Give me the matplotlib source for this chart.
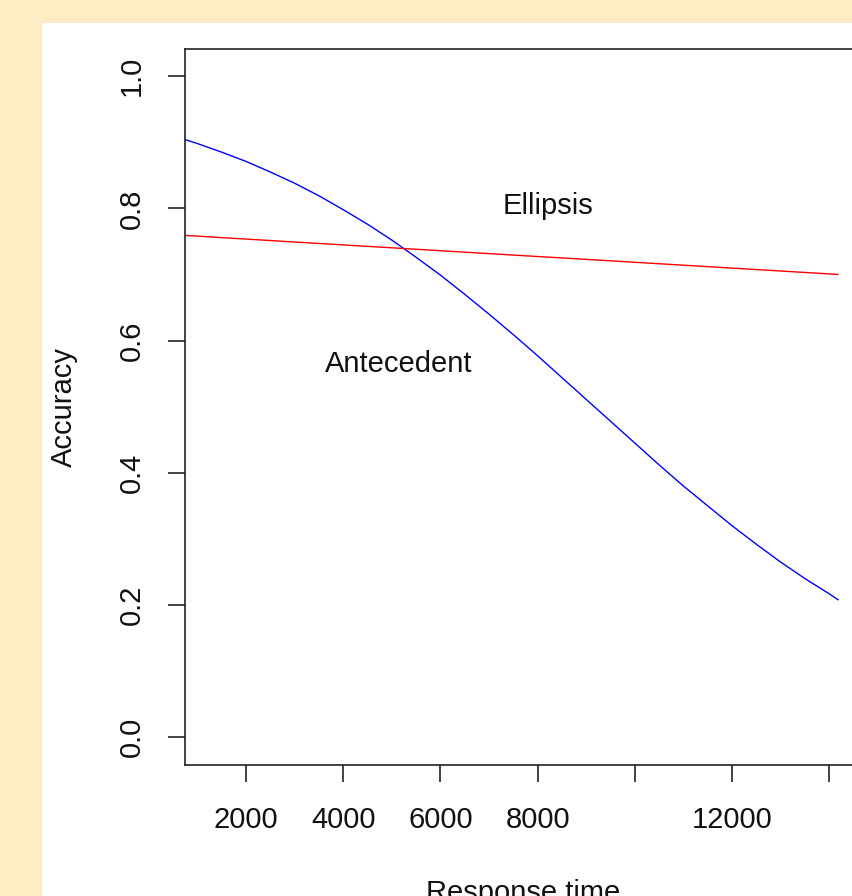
import matplotlib
matplotlib.use("Agg")
import matplotlib.pyplot as plt
from matplotlib.patches import Rectangle

# Data
resp_time = [745, 1000, 1500, 2000, 2500, 3000, 3500, 4000, 4500, 5000,
             5500, 6000, 6500, 7000, 7500, 8000, 8500, 9000, 9500, 10000,
             10500, 11000, 11500, 12000, 12500, 13000, 13500, 14000, 14181]
antecedent_acc = [0.904, 0.898, 0.885, 0.871, 0.855, 0.838, 0.819, 0.798,
                  0.776, 0.752, 0.726, 0.699, 0.670, 0.640, 0.609, 0.577,
                  0.544, 0.511, 0.478, 0.445, 0.412, 0.380, 0.350, 0.320,
                  0.292, 0.265, 0.240, 0.217, 0.208]
ellipsis_acc = [0.759, 0.758, 0.7557, 0.7535, 0.7513, 0.749, 0.7469, 0.7447,
                0.7425, 0.7403, 0.7381, 0.7359, 0.7337, 0.7315, 0.7293, 0.7271,
                0.725, 0.7228, 0.7206, 0.7184, 0.7162, 0.714, 0.7118, 0.7096,
                0.7074, 0.7052, 0.703, 0.7008, 0.700]

x_ticks = [2000, 4000, 6000, 8000, 10000, 12000, 14000]
x_tick_labels = ["2000", "4000", "6000", "8000", "", "12000", ""]
y_ticks = [0.0, 0.2, 0.4, 0.6, 0.8, 1.0]
y_tick_labels = ["0.0", "0.2", "0.4", "0.6", "0.8", "1.0"]

W, H = 853, 896
plt.rcParams['font.family'] = ['Liberation Sans', 'DejaVu Sans']
fig = plt.figure(figsize=(W / 100, H / 100), dpi=100)
fig.patch.set_facecolor('#feedc4')

bg = fig.add_axes([42 / W, 0, 1 - 42 / W, (H - 23) / H], zorder=-10)
bg.set_facecolor('white')
bg.set_axis_off()
bg.add_patch(Rectangle((0, 0), 1, 1, transform=bg.transAxes,
                       facecolor='white', edgecolor='none'))

left, right, bottom, top = 185, 862, 765, 49
ax = fig.add_axes([left / W, (H - bottom) / H, (right - left) / W, (bottom - top) / H])
ax.set_facecolor('white')

ax.plot(resp_time, antecedent_acc, color='#0000ff', lw=1.0)
ax.plot(resp_time, ellipsis_acc, color='#ff0000', lw=1.0)

ax.set_xlim(745, 14675)
ax.set_ylim(-0.042, 1.041)

ax.set_xticks(x_ticks)
ax.set_xticklabels(x_tick_labels)
ax.set_yticks(y_ticks)
ax.set_yticklabels(y_tick_labels, rotation=90, va='center')

for s in ax.spines.values():
    s.set_color('#222222')
    s.set_linewidth(1.2)
ax.tick_params(axis='both', length=12.2, width=1.2, color='#222222',
               labelsize=21, labelcolor='#111111')
ax.tick_params(axis='x', pad=17)
ax.tick_params(axis='y', pad=16)

ax.text(8214, 0.792, "Ellipsis", fontsize=21, ha='center', va='baseline',
        color='#111111')
ax.text(5138, 0.552, "Antecedent", fontsize=21, ha='center', va='baseline',
        color='#111111')

ax.text(-0.1669, 0.5, "Accuracy", transform=ax.transAxes, fontsize=21,
        rotation=90, rotation_mode='anchor', ha='center', va='baseline',
        color='#111111')
ax.text(0.5, -0.190, "Response time", transform=ax.transAxes, fontsize=21,
        ha='center', va='baseline', clip_on=False, color='#111111')

fig.savefig("out.png", dpi=100, facecolor=fig.get_facecolor())
